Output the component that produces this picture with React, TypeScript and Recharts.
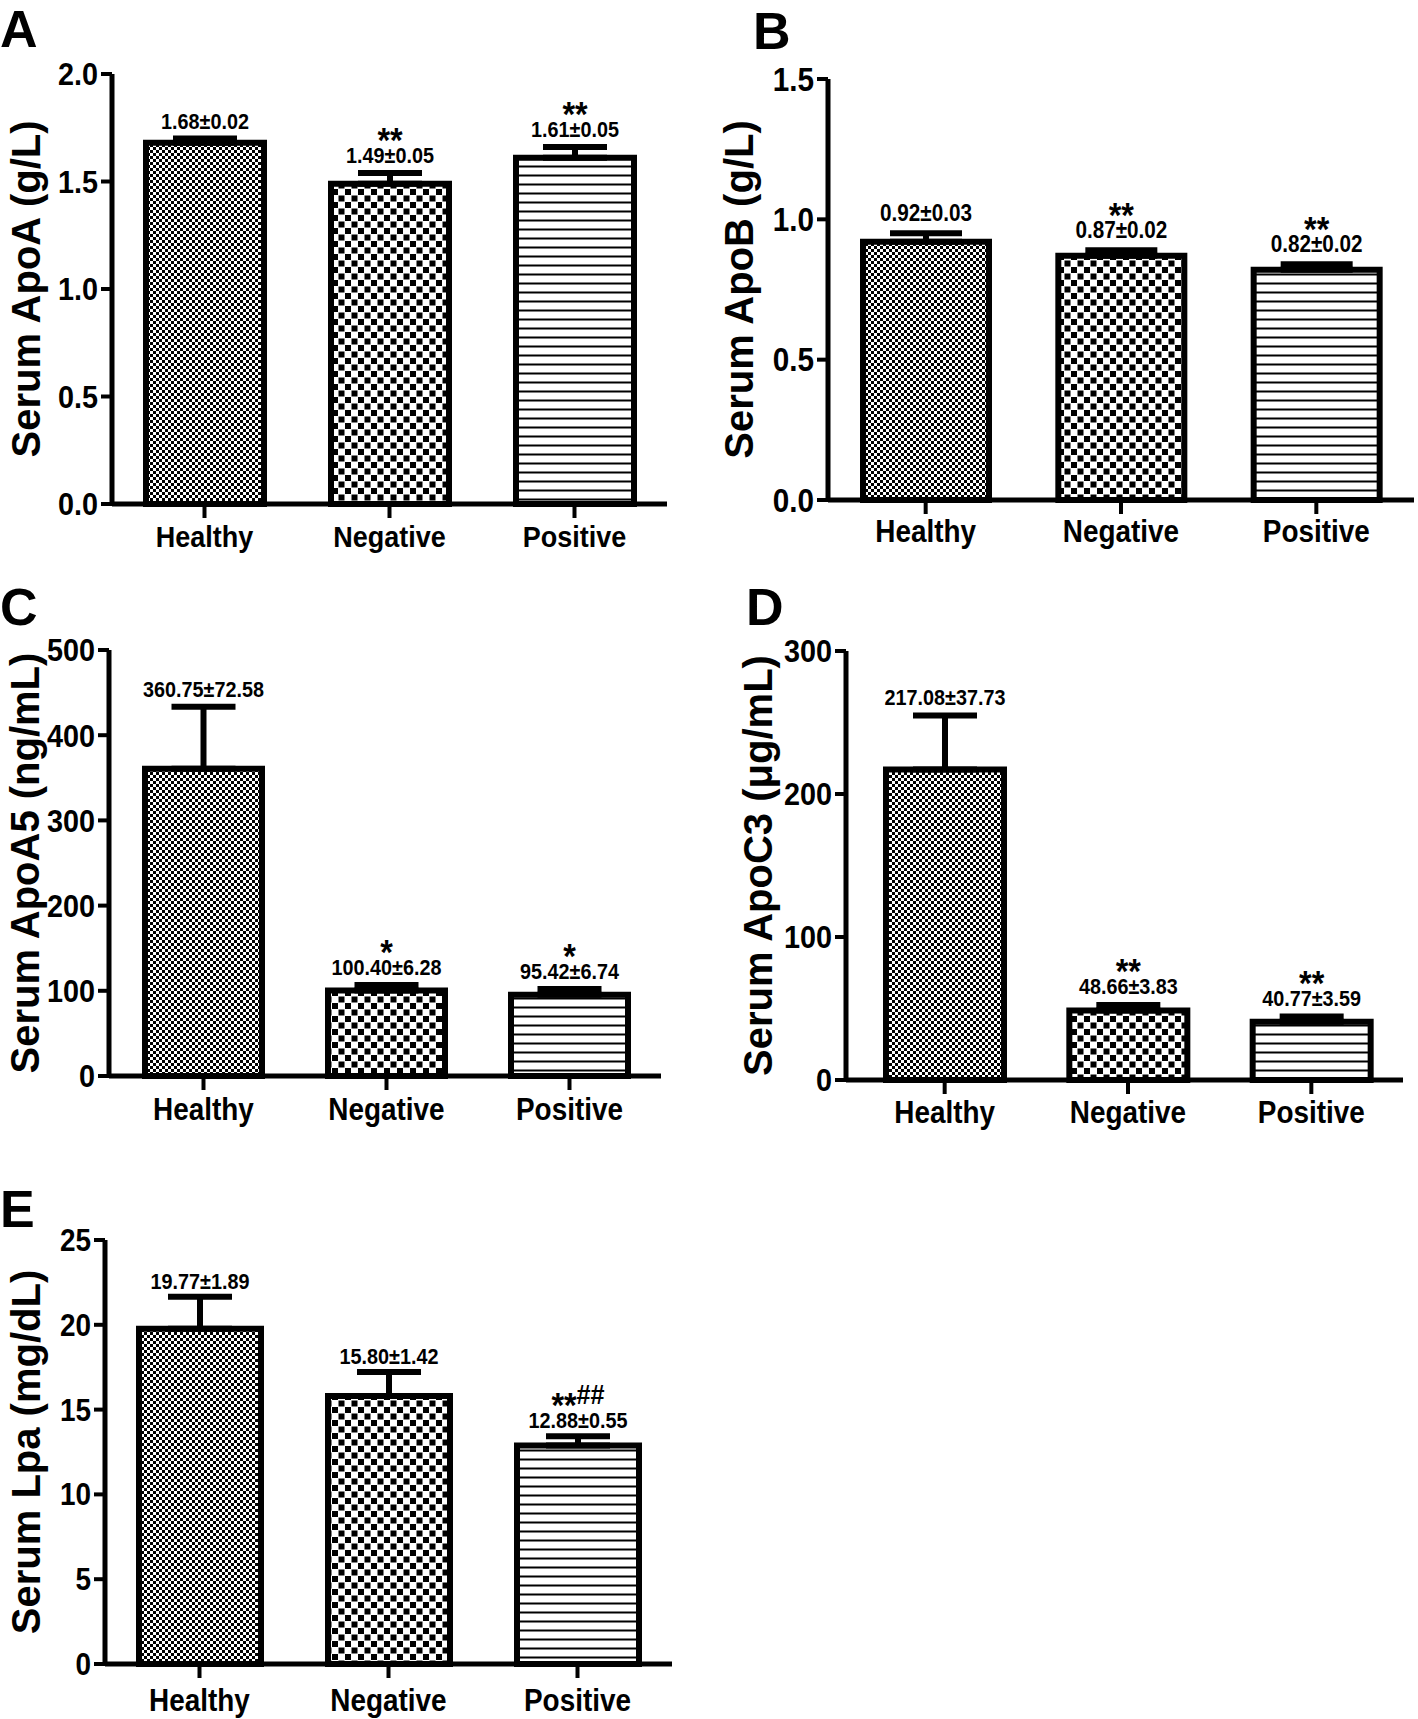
import { BarChart, Bar, XAxis, YAxis, ErrorBar, LabelList, Cell } from 'recharts';

const FONT = "'Liberation Sans', Arial, Helvetica, sans-serif";
// the figure's horizontal text is a bit condensed
const SQUEEZE = 0.9;

const groups = ['Healthy', 'Negative', 'Positive'];

const apoAMean = [1.68, 1.49, 1.61];
const apoASem = [0.02, 0.05, 0.05];
const apoASig = ['', '**', '**'];
const apoATicks = [0, 0.5, 1.0, 1.5, 2.0];

const apoBMean = [0.92, 0.87, 0.82];
const apoBSem = [0.03, 0.02, 0.02];
const apoBSig = ['', '**', '**'];
const apoBTicks = [0, 0.5, 1.0, 1.5];

const apoA5Mean = [360.75, 100.4, 95.42];
const apoA5Sem = [72.58, 6.28, 6.74];
const apoA5Sig = ['', '*', '*'];
const apoA5Ticks = [0, 100, 200, 300, 400, 500];

const apoC3Mean = [217.08, 48.66, 40.77];
const apoC3Sem = [37.73, 3.83, 3.59];
const apoC3Sig = ['', '**', '**'];
const apoC3Ticks = [0, 100, 200, 300];

const lpaMean = [19.77, 15.8, 12.88];
const lpaSem = [1.89, 1.42, 0.55];
const lpaSig = ['', '', '**##'];
const lpaTicks = [0, 5, 10, 15, 20, 25];

type PanelProps = {
  id: string;
  yLabel: string;
  mean: number[];
  sem: number[];
  sig: string[];
  ticks: number[];
  decimals: number;
  left: number;
  top: number;
  width: number;
  height: number;
  axisX: number;
  plotTop: number;
  plotBottom: number;
  padLeft: number;
  barSize: number;
  capHalf: number;
  yLabelX: number;
  tickFont: number;
  catFont: number;
  catMargin: number;
  numFont: number;
  gap: number;
};

function SqueezedText(props: {
  x: number;
  y: number;
  anchor: string;
  size: number;
  shift?: string;
  children: any;
}) {
  return (
    <text
      transform={`translate(${props.x},${props.y}) scale(${SQUEEZE},1)`}
      textAnchor={props.anchor}
      dy={props.shift}
      fontFamily={FONT}
      fontWeight={700}
      fontSize={props.size}
      fill="#000"
    >
      {props.children}
    </text>
  );
}

function Patterns({ id }: { id: string }) {
  return (
    <defs>
      {/* fine checker - healthy */}
      <pattern id={`${id}-0`} patternUnits="userSpaceOnUse" width={6} height={6}>
        <rect width={6} height={6} fill="#fff" />
        <rect x={0} y={0} width={3} height={3} fill="#000" />
        <rect x={3} y={3} width={3} height={3} fill="#000" />
      </pattern>
      {/* coarse checker - negative */}
      <pattern id={`${id}-1`} patternUnits="userSpaceOnUse" width={13} height={13}>
        <rect width={13} height={13} fill="#fff" />
        <rect x={0.5} y={0.5} width={6} height={6} fill="#000" />
        <rect x={7} y={7} width={6} height={6} fill="#000" />
      </pattern>
      {/* horizontal lines - positive */}
      <pattern id={`${id}-2`} patternUnits="userSpaceOnUse" width={9} height={9}>
        <rect width={9} height={9} fill="#fff" />
        <rect x={0} y={3.5} width={9} height={2} fill="#000" />
      </pattern>
    </defs>
  );
}

function Panel(p: PanelProps) {
  const data = groups.map((name, i) => ({ name, mean: p.mean[i], err: [0, p.sem[i]] }));
  const plotTop = p.plotTop - p.top;
  const plotBottom = p.plotBottom - p.top;
  const yMax = p.ticks[p.ticks.length - 1];

  const renderLabel = (props: any) => {
    const vb = props.viewBox ?? props;
    const i = Number(props.index);
    const x = Number(vb.x ?? props.x);
    const y = Number(vb.y ?? props.y);
    const w = Number(vb.width ?? props.width);
    const h = Number(vb.height ?? props.height);
    const cx = x + w / 2;
    const errTop = y - (p.sem[i] / p.mean[i]) * h;
    const base = errTop - p.gap;
    const sig = p.sig[i];
    const stars = sig.replace(/#/g, '');
    const hashes = sig.replace(/\*/g, '');
    return (
      <g>
        <SqueezedText x={cx} y={base} anchor="middle" size={p.numFont}>
          {`${p.mean[i].toFixed(2)}±${p.sem[i].toFixed(2)}`}
        </SqueezedText>
        {sig && (
          <text
            transform={`translate(${cx},${base - 11}) scale(${SQUEEZE},1)`}
            textAnchor="middle"
            fontFamily={FONT}
            fontWeight={700}
            fill="#000"
          >
            <tspan fontSize={36}>{stars}</tspan>
            {hashes && (
              <tspan fontSize={28} dy={-13}>
                {hashes}
              </tspan>
            )}
          </text>
        )}
      </g>
    );
  };

  return (
    <div style={{ position: 'absolute', left: p.left, top: p.top }}>
      <BarChart
        width={p.width}
        height={p.height}
        data={data}
        margin={{ top: plotTop, right: 3, bottom: 0, left: 0 }}
        barSize={p.barSize}
      >
        <Patterns id={p.id} />
        <XAxis
          dataKey="name"
          interval={0}
          height={p.height - plotBottom}
          padding={{ left: p.padLeft, right: 0 }}
          axisLine={{ stroke: '#000', strokeWidth: 5 }}
          tickLine={{ stroke: '#000', strokeWidth: 4 }}
          tickSize={14}
          tickMargin={p.catMargin}
          tick={(t: any) => (
            <SqueezedText x={t.x} y={t.y} anchor="middle" size={p.catFont} shift="0.71em">
              {t.payload.value}
            </SqueezedText>
          )}
        />
        <YAxis
          type="number"
          width={p.axisX - p.left}
          domain={[0, yMax]}
          ticks={p.ticks}
          interval={0}
          axisLine={{ stroke: '#000', strokeWidth: 5 }}
          tickLine={{ stroke: '#000', strokeWidth: 4 }}
          tickSize={11}
          tickMargin={3}
          tick={(t: any) => (
            <SqueezedText x={t.x} y={t.y} anchor="end" size={p.tickFont} shift="0.355em">
              {Number(t.payload.value).toFixed(p.decimals)}
            </SqueezedText>
          )}
          label={{
            value: p.yLabel,
            angle: -90,
            position: 'insideLeft',
            offset: p.yLabelX - p.left,
            textAnchor: 'middle',
            fill: '#000',
            fontSize: 40,
            fontWeight: 700,
            fontFamily: FONT,
          }}
        />
        <Bar dataKey="mean" stroke="#000" strokeWidth={6} isAnimationActive={false}>
          {data.map((d, i) => (
            <Cell key={d.name} fill={`url(#${p.id}-${i})`} />
          ))}
          <ErrorBar
            dataKey="err"
            direction="y"
            width={p.capHalf}
            stroke="#000"
            strokeWidth={6}
            isAnimationActive={false}
          />
          <LabelList dataKey="mean" content={renderLabel} />
        </Bar>
      </BarChart>
    </div>
  );
}

const panelLetters = [
  { t: 'A', x: 0, y: 47 },
  { t: 'B', x: 753, y: 49 },
  { t: 'C', x: 0, y: 625 },
  { t: 'D', x: 746, y: 625 },
  { t: 'E', x: 0, y: 1227 },
];

export default function App() {
  return (
    <div
      style={{
        position: 'absolute',
        left: 0,
        top: 0,
        width: 1418,
        height: 1719,
        background: '#fff',
        overflow: 'hidden',
      }}
    >
      <Panel
        id="apoa"
        yLabel="Serum ApoA (g/L)"
        mean={apoAMean}
        sem={apoASem}
        sig={apoASig}
        ticks={apoATicks}
        decimals={1}
        left={0}
        top={0}
        width={670}
        height={570}
        axisX={112}
        plotTop={74}
        plotBottom={504}
        padLeft={0}
        barSize={118}
        capHalf={32}
        yLabelX={26}
        tickFont={32}
        catFont={30}
        catMargin={8}
        numFont={22}
        gap={10}
      />
      <Panel
        id="apob"
        yLabel="Serum ApoB (g/L)"
        mean={apoBMean}
        sem={apoBSem}
        sig={apoBSig}
        ticks={apoBTicks}
        decimals={1}
        left={700}
        top={0}
        width={717}
        height={570}
        axisX={828}
        plotTop={79}
        plotBottom={500}
        padLeft={0}
        barSize={126}
        capHalf={36}
        yLabelX={739}
        tickFont={33}
        catFont={31}
        catMargin={6}
        numFont={23}
        gap={12}
      />
      <Panel
        id="apoa5"
        yLabel="Serum ApoA5 (ng/mL)"
        mean={apoA5Mean}
        sem={apoA5Sem}
        sig={apoA5Sig}
        ticks={apoA5Ticks}
        decimals={0}
        left={0}
        top={580}
        width={664}
        height={560}
        axisX={109}
        plotTop={650}
        plotBottom={1076}
        padLeft={3}
        barSize={117}
        capHalf={32}
        yLabelX={25}
        tickFont={32}
        catFont={31}
        catMargin={8}
        numFont={22}
        gap={10}
      />
      <Panel
        id="apoc3"
        yLabel="Serum ApoC3 (μg/mL)"
        mean={apoC3Mean}
        sem={apoC3Sem}
        sig={apoC3Sig}
        ticks={apoC3Ticks}
        decimals={0}
        left={700}
        top={580}
        width={706}
        height={560}
        axisX={846}
        plotTop={651}
        plotBottom={1080}
        padLeft={7}
        barSize={118}
        capHalf={32}
        yLabelX={758}
        tickFont={32}
        catFont={31}
        catMargin={7}
        numFont={22}
        gap={11}
      />
      <Panel
        id="lpa"
        yLabel="Serum Lpa (mg/dL)"
        mean={lpaMean}
        sem={lpaSem}
        sig={lpaSig}
        ticks={lpaTicks}
        decimals={0}
        left={0}
        top={1140}
        width={675}
        height={579}
        axisX={105}
        plotTop={1240}
        plotBottom={1664}
        padLeft={0}
        barSize={122}
        capHalf={32}
        yLabelX={26}
        tickFont={31}
        catFont={31}
        catMargin={11}
        numFont={22}
        gap={8}
      />
      <svg
        width={1418}
        height={1719}
        style={{ position: 'absolute', left: 0, top: 0, pointerEvents: 'none' }}
      >
        {panelLetters.map((l) => (
          <text key={l.t} x={l.x} y={l.y} fontFamily={FONT} fontWeight={700} fontSize={52} fill="#000">
            {l.t}
          </text>
        ))}
      </svg>
    </div>
  );
}
